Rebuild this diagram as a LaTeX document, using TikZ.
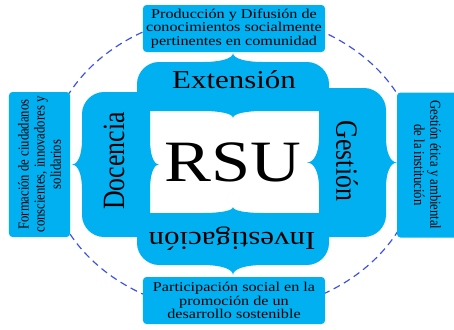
\documentclass[tikz,border=0pt]{standalone}
\usepackage{fontspec}
\setmainfont{Liberation Serif}
\definecolor{rsublue}{RGB}{0,176,240}
\definecolor{ringblue}{RGB}{60,80,230}

% bracket with two braces: centre, angle, half length, half thickness, outer tip, inner tip, shoulder
\newcommand{\bracketshape}[7]{%
\begin{scope}[shift={#1}, rotate=#2]
\fill[rsublue] (-#3,0) -- (-#3,{-#4+22})
  .. controls (-#3,{-#4+10}) and ({-#3+10},-#4) .. ({-#3+22},-#4)
  -- (-#7,-#4)
  .. controls ({-0.4*#7},-#4) and (0,{-#4-0.4*#5}) .. (0,{-#4-#5})
  .. controls (0,{-#4-0.4*#5}) and ({0.4*#7},-#4) .. (#7,-#4)
  -- ({#3-22},-#4)
  .. controls ({#3-10},-#4) and (#3,{-#4+10}) .. (#3,{-#4+22})
  -- (#3,{#4-10})
  .. controls (#3,{#4-4.5}) and ({#3-4.5},#4) .. ({#3-10},#4)
  -- (#7,#4)
  .. controls ({0.4*#7},#4) and (0,{#4+0.4*#6}) .. (0,{#4+#6})
  .. controls (0,{#4+0.4*#6}) and ({-0.4*#7},#4) .. (-#7,#4)
  -- ({-#3+10},#4)
  .. controls ({-#3+4.5},#4) and (-#3,{#4-4.5}) .. (-#3,{#4-10})
  -- cycle;
\end{scope}}

\begin{document}
\begin{tikzpicture}[x=0.03cm, y=-0.03cm,
  infobox/.style={fill=rsublue, rounded corners=3pt, inner sep=0pt, align=center,
    font=\fontsize{11.5}{11.5}\selectfont, xscale=1.2},
  sidebox/.style={infobox, font=\fontsize{10.8}{11.5}\selectfont,
    minimum width=4.35cm, minimum height=1.525cm},
  area/.style={font=\fontsize{22}{26}\selectfont, inner sep=0pt, xscale=1.2},
  ring/.style={ringblue, dash pattern=on 6pt off 4pt, line width=1pt}]
\useasboundingbox (0,0) rectangle (454,329);
\clip (0,0) rectangle (454,329);
% dashed ring behind everything
\coordinate (ctr) at (233,163);
\draw[ring] (ctr) ellipse [x radius=185, y radius=150];
% the four brackets
\bracketshape{(233,86.5)}{0}{96}{24.5}{9}{7}{30}
\bracketshape{(116,164.5)}{90}{72.5}{34}{10}{9}{25}
\bracketshape{(233,239)}{180}{96}{26}{10}{6}{30}
\bracketshape{(352.5,162.5)}{-90}{74.5}{33.5}{11}{12}{25}
% labels
\node[area] (ext) at (234,80) {Extensión};
\node[area, rotate=90] (doc) at (114,161) {Docencia};
\node[area, rotate=180] (inv) at (232,238.5) {Investigación};
\node[area, rotate=-90] (ges) at (347,161) {Gestión};
\node[font=\fontsize{50}{60}\selectfont, inner sep=0pt, xscale=1.2] (rsu) at (233,162.5) {RSU};
% outer boxes
\node[infobox, minimum width=4.55cm, minimum height=1.41cm] (ext-box) at (234,28.5)
  {Producción y Difusión de\\conocimientos socialmente\\pertinentes en comunidad};
\node[infobox, minimum width=4.55cm, minimum height=1.41cm] (inv-box) at (234,300.5)
  {Participación social en la\\promoción de un\\desarrollo sostenible};
\node[sidebox, rotate=90] (doc-box) at (39.5,164.5)
  {Formación de ciudadanos\\conscientes, innovadores y\\solidarios};
\node[sidebox, rotate=-90] (ges-box) at (427.5,165)
  {Gestión ética y ambiental\\de la institución};
\end{tikzpicture}
\end{document}
